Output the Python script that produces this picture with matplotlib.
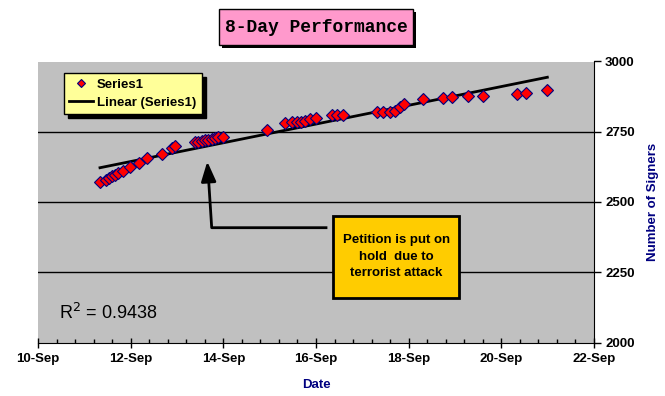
import matplotlib
matplotlib.use('Agg')
import matplotlib.pyplot as plt
import numpy as np
from matplotlib.patches import Rectangle
from matplotlib.lines import Line2D

# signers over time (x = day of September, y = number of signers)
days = [11.338, 11.468, 11.539, 11.597, 11.662, 11.733, 11.828, 11.986, 12.186, 12.346,
        12.670, 12.886, 12.957, 13.389, 13.453, 13.533, 13.605, 13.669, 13.749, 13.820,
        13.885, 13.993, 14.936, 15.331, 15.476, 15.584, 15.677, 15.763, 15.871, 16.000,
        16.339, 16.447, 16.590, 17.311, 17.453, 17.598, 17.706, 17.813, 17.906, 18.316,
        18.742, 18.942, 19.288, 19.612, 20.332, 20.527, 20.993]
signers = [2570, 2579, 2586, 2591, 2597, 2602, 2612, 2624, 2640, 2657,
           2672, 2693, 2698, 2713, 2715, 2716, 2719, 2722, 2724, 2727,
           2731, 2733, 2758, 2782, 2783, 2783, 2785, 2790, 2794, 2798,
           2810, 2810, 2808, 2822, 2822, 2822, 2823, 2837, 2849, 2865,
           2871, 2875, 2879, 2879, 2883, 2887, 2897]

tick_days = [10, 12, 14, 16, 18, 20, 22]
tick_labels = ['10-Sep', '12-Sep', '14-Sep', '16-Sep', '18-Sep', '20-Sep', '22-Sep']
y_ticks = [2000, 2250, 2500, 2750, 3000]

title = '8-Day Performance'
note = 'Petition is put on\nhold  due to\nterrorist attack'
r2_text = 'R$^2$ = 0.9438'

W, H = 665, 396


def fx(x):
    return x / W


def fy(y):
    return 1 - y / H


plt.rcParams['font.family'] = ['Liberation Sans', 'DejaVu Sans']

fig = plt.figure(figsize=(6.65, 3.96), dpi=100)
fig.patch.set_facecolor('white')
ax = fig.add_axes([fx(38), fy(342.5), fx(594) - fx(38), fy(61.5) - fy(342.5)])
ax.set_facecolor('#C0C0C0')

ax.set_xlim(10, 22)
ax.set_ylim(2000, 3000)

for yv in y_ticks[1:-1]:
    ax.axhline(yv, color='black', lw=1.0, zorder=1)

# trend line
coef = np.polyfit(days, signers, 1)
xs = np.array([min(days), max(days)])
ax.plot(xs, np.polyval(coef, xs), color='black', lw=2.0, zorder=3, label='Linear (Series1)')
ax.plot(days, signers, linestyle='none', marker='D', ms=6.4, mfc='#FF0000', mec='#000080',
        mew=0.8, zorder=4, label='Series1')

ax.spines['top'].set_visible(False)
ax.spines['left'].set_visible(False)
ax.spines['right'].set_color('black')
ax.spines['bottom'].set_color('black')

ax.set_xticks(tick_days)
ax.set_xticklabels(tick_labels, fontsize=9.5, fontweight='bold')
ax.set_xticks(np.arange(10, 22.01, 0.4), minor=True)
ax.tick_params(axis='x', which='major', direction='inout', length=7, width=1, pad=4)
ax.tick_params(axis='x', which='minor', direction='in', length=3, width=1)

ax.yaxis.tick_right()
ax.yaxis.set_label_position('right')
ax.set_yticks(y_ticks)
ax.set_yticklabels([str(v) for v in y_ticks], fontsize=9.5, fontweight='bold')
ax.tick_params(axis='y', which='major', direction='out', length=5, width=1, pad=3)

ax.set_xlabel('Date', color='#000080', fontsize=9.5, fontweight='bold', labelpad=10)
ax.set_ylabel('Number of Signers', color='#000080', fontsize=9.5, fontweight='bold', labelpad=9)

# legend
h, l = ax.get_legend_handles_labels()
leg = ax.legend(h[::-1], l[::-1], loc='upper left', bbox_to_anchor=(fx(64), fy(73.3)),
                bbox_transform=fig.transFigure, borderaxespad=0, fancybox=False,
                facecolor='#FFFF99', edgecolor='black', framealpha=1,
                prop={'weight': 'bold', 'size': 9.5}, handlelength=1.8, handletextpad=0.3,
                borderpad=0.4, labelspacing=0.45, markerscale=0.7,
                shadow={'color': 'black', 'alpha': 1, 'ox': 3, 'oy': -3})
leg.get_frame().set_linewidth(1.0)

# R^2
ax.text(fx(59), fy(313), r2_text, transform=fig.transFigure, fontsize=13,
        va='center', ha='left')

# title box with shadow
fig.patches.append(Rectangle((fx(222.3), fy(48)), fx(194), fy(0) - fy(35.7),
                             transform=fig.transFigure, facecolor='black', edgecolor='none'))
fig.patches.append(Rectangle((fx(219.3), fy(45)), fx(194), fy(0) - fy(35.7),
                             transform=fig.transFigure, facecolor='#FF99CC', edgecolor='black', lw=1))
fig.text(fx(316.3), fy(27), title, family=['Liberation Mono', 'DejaVu Sans Mono'],
         fontweight='bold', fontsize=13, ha='center', va='center')

# annotation box and arrow
fig.patches.append(Rectangle((fx(333.3), fy(298.3)), fx(126), fy(0) - fy(82.6),
                             transform=fig.transFigure, facecolor='#FFCC00', edgecolor='black',
                             lw=2, zorder=5))
fig.text(fx(396.3), fy(256.5), note, fontsize=9.5, fontweight='bold', ha='center', va='center',
         linespacing=1.55, zorder=6)
fig.lines.append(Line2D([fx(326), fx(211.7), fx(208.5)], [fy(227.7), fy(227.7), fy(178)],
                        transform=fig.transFigure, color='black', lw=2))
ax.annotate('', xy=(fx(207.3), fy(161.5)), xytext=(fx(208.5), fy(180)),
            xycoords='figure fraction', textcoords='figure fraction',
            arrowprops=dict(arrowstyle='-|>,head_length=1.2,head_width=0.45', color='black',
                            lw=2, shrinkA=0, shrinkB=0))

fig.savefig('out.png', dpi=100)
